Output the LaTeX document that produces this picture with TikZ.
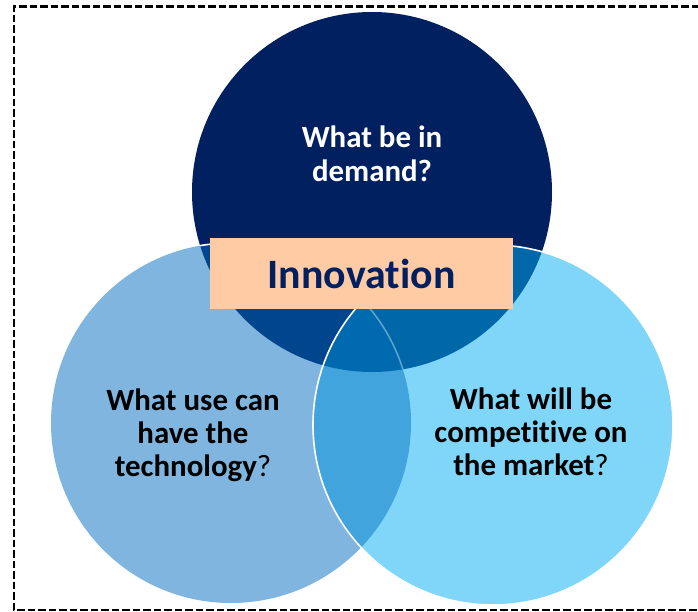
\documentclass[tikz,border=0pt]{standalone}
\usepackage{fontspec}
\setmainfont[Ligatures=NoCommon]{Carlito}
\definecolor{cnavy}{HTML}{002060}
\definecolor{cleft}{HTML}{7FB5DE}
\definecolor{cright}{HTML}{80D6F8}
\definecolor{ctl}{HTML}{00468E}
\definecolor{ctr}{HTML}{0068A8}
\definecolor{clr}{HTML}{42A4DC}
\definecolor{call}{HTML}{006AB0}
\definecolor{cpeach}{HTML}{FFCBA4}
\tikzset{
  border/.style={draw=black,line width=2.6bp,dash pattern=on 7.5bp off 3bp},
  ring/.style={draw=white,line width=1.6bp},
  qtext/.style={anchor=base,inner sep=0pt,font=\fontsize{31}{33.5}\selectfont\bfseries},
  innobox/.style={fill=cpeach,inner sep=0pt,minimum width=303bp,minimum height=71bp,
    text=cnavy,font=\fontsize{42}{50}\selectfont\bfseries}
}
\begin{document}
\begin{tikzpicture}[x=1bp,y=-1bp]
\useasboundingbox (0,0) rectangle (698,612);
\coordinate (cT) at (372,192);
\coordinate (cL) at (231,423);
\coordinate (cR) at (493,425);
% base fills
\fill[cnavy] (cT) circle[radius=180];
\fill[cleft] (cL) circle[radius=180];
\begin{scope}
  \clip (cT) circle[radius=180];
  \fill[ctl] (cL) circle[radius=180];
  \draw[ring] (cL) circle[radius=180];
\end{scope}
\fill[cright] (cR) circle[radius=180];
\begin{scope}
  \clip (cR) circle[radius=180];
  \fill[ctr] (cT) circle[radius=180];
  \fill[clr] (cL) circle[radius=180];
  \begin{scope}
    \clip (cT) circle[radius=180];
    \fill[call] (cL) circle[radius=180];
    \draw[ring,opacity=0.35] (cL) circle[radius=180];
  \end{scope}
\end{scope}
\draw[ring] (cR) circle[radius=180];
% texts
\node[innobox] (inno) at (361.5,273.5) {Innovation};
\node[qtext,text=white] (qT) at (372,148)
  {\begin{tabular}[t]{@{}c@{}}What be in\\demand?\end{tabular}};
\node[qtext,text=black] (qL) at (193,410)
  {\begin{tabular}[t]{@{}c@{}}What use can\\have the\\technology{\mdseries ?}\end{tabular}};
\node[qtext,text=black] (qR) at (531,409)
  {\begin{tabular}[t]{@{}c@{}}What will be\\competitive on\\the market{\mdseries ?}\end{tabular}};
% dashed frame
\begin{scope}
  \clip (0,0) rectangle (698,612);
  \draw[border] (720,6.5) -- (14,6.5) -- (14,610) -- (720,610);
\end{scope}
\end{tikzpicture}
\end{document}
